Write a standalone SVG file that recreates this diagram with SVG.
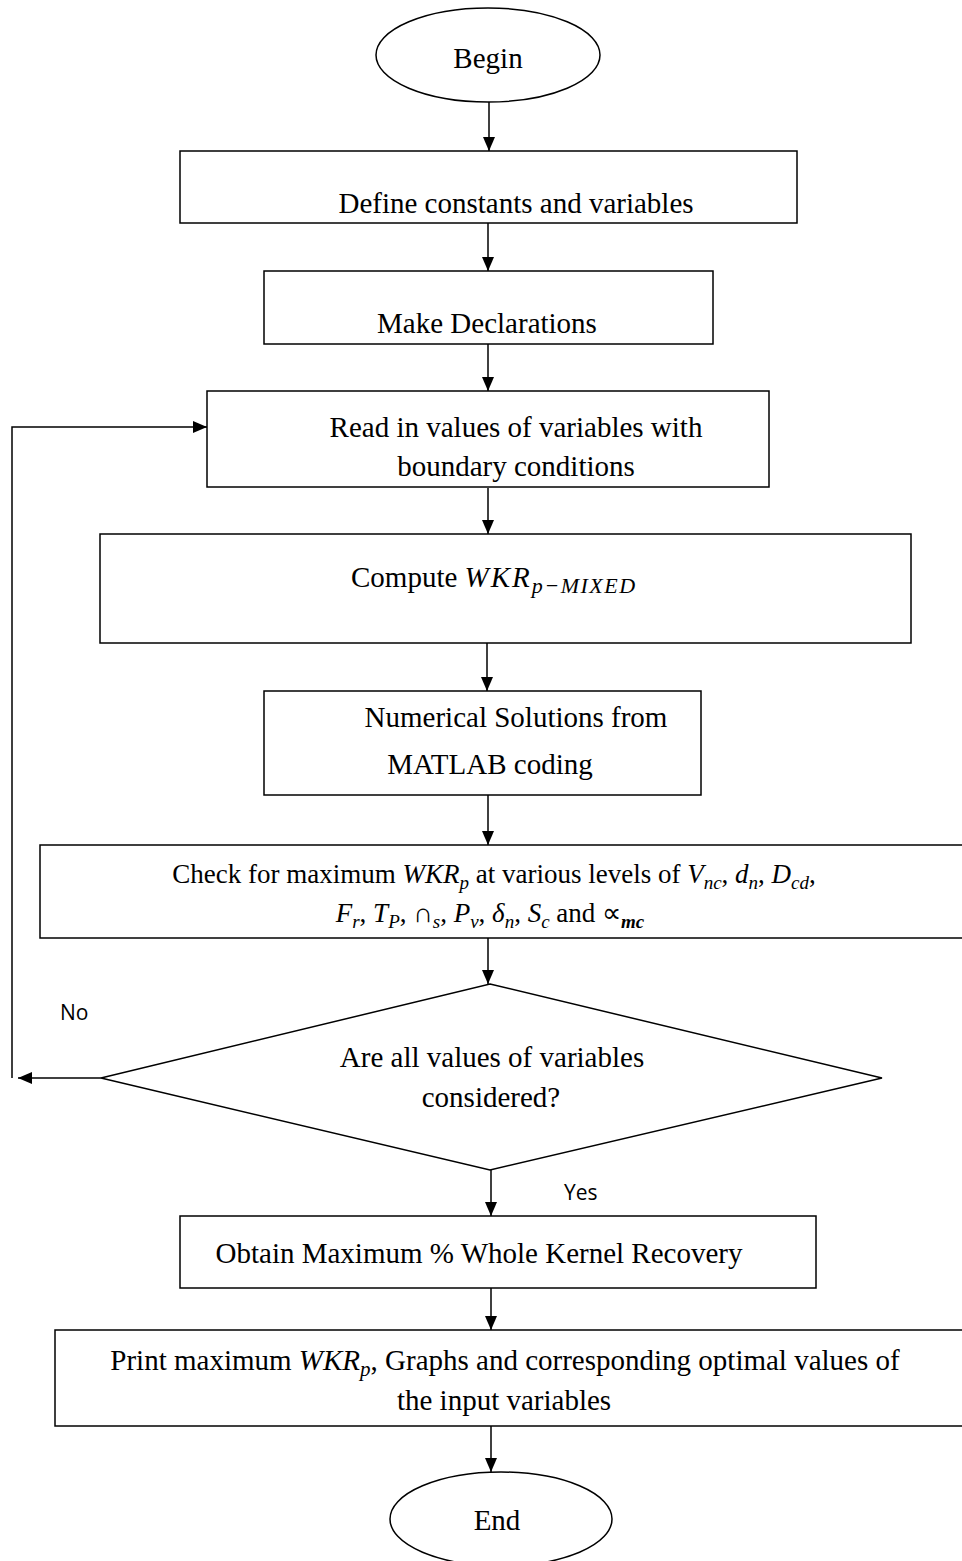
<svg xmlns="http://www.w3.org/2000/svg" width="962" height="1561" viewBox="0 0 962 1561">
<defs>
<marker id="ah" markerUnits="userSpaceOnUse" markerWidth="14" markerHeight="12" refX="14" refY="6" orient="auto">
<path d="M0,0 L14,6 L0,12 z" fill="#000"/>
</marker>
<clipPath id="clip3"><rect x="207" y="391" width="562" height="96"/></clipPath>
</defs>
<style>
.box{fill:#fff;stroke:#000;stroke-width:1.5}
.edge{fill:none;stroke:#000;stroke-width:1.5}
.t{font-family:"Liberation Serif","Times New Roman",serif;font-size:29px;fill:#000}
.s{font-family:"Liberation Serif","Times New Roman",serif;font-size:27px;fill:#000}
.m{font-style:italic}
.lbl{font-family:"Open Sans","Liberation Sans",sans-serif;font-size:21px;fill:#000}
</style>
<rect width="962" height="1561" fill="#fff"/>
<g id="connectors">
<line class="edge" x1="489" y1="102" x2="489" y2="151" marker-end="url(#ah)"/>
<line class="edge" x1="488" y1="223" x2="488" y2="271" marker-end="url(#ah)"/>
<line class="edge" x1="488" y1="344" x2="488" y2="391" marker-end="url(#ah)"/>
<line class="edge" x1="488" y1="488" x2="488" y2="534" marker-end="url(#ah)"/>
<line class="edge" x1="487" y1="643" x2="487" y2="691" marker-end="url(#ah)"/>
<line class="edge" x1="488" y1="795" x2="488" y2="845" marker-end="url(#ah)"/>
<line class="edge" x1="488" y1="938" x2="488" y2="984" marker-end="url(#ah)"/>
<line class="edge" x1="491" y1="1170" x2="491" y2="1216" marker-end="url(#ah)"/>
<line class="edge" x1="491" y1="1286" x2="491" y2="1330" marker-end="url(#ah)"/>
<line class="edge" x1="491" y1="1426" x2="491" y2="1472" marker-end="url(#ah)"/>
<line class="edge" x1="101" y1="1078" x2="18" y2="1078" marker-end="url(#ah)"/>
<polyline class="edge" points="12,1078 12,427 207,427" marker-end="url(#ah)"/>
</g>
<g id="begin">
<ellipse class="box" cx="488" cy="55" rx="112" ry="47"/>
<text class="t" x="488" y="68" text-anchor="middle">Begin</text>
</g>
<g id="define">
<rect class="box" x="180" y="151" width="617" height="72"/>
<text class="t" x="516" y="213" text-anchor="middle">Define constants and variables</text>
</g>
<g id="declare">
<rect class="box" x="264" y="271" width="449" height="73"/>
<text class="t" x="487" y="333" text-anchor="middle">Make Declarations</text>
</g>
<g id="read">
<rect class="box" x="207" y="391" width="562" height="96"/>
<text class="t" x="516" y="437" text-anchor="middle">Read in values of variables with</text>
<text class="t" x="516" y="476" text-anchor="middle" clip-path="url(#clip3)">boundary conditions</text>
</g>
<g id="compute">
<rect class="box" x="100" y="534" width="811" height="109"/>
<text class="t" x="351" y="587">Compute  <tspan class="m" letter-spacing="2">WKR</tspan><tspan class="m" font-size="22" letter-spacing="1.5" dy="6">p−MIXED</tspan></text>
</g>
<g id="numerical">
<rect class="box" x="264" y="691" width="437" height="104"/>
<text class="t" x="516" y="727" text-anchor="middle">Numerical Solutions from</text>
<text class="t" x="490" y="774" text-anchor="middle">MATLAB coding</text>
</g>
<g id="check">
<rect class="box" x="40" y="845" width="930" height="93"/>
<text class="s" x="494" y="883" text-anchor="middle">Check for maximum  <tspan class="m">WKR</tspan><tspan class="m" font-size="19" dy="6">p</tspan><tspan dy="-6"> at various levels of </tspan><tspan class="m">V</tspan><tspan class="m" font-size="19" dy="6">nc</tspan><tspan dy="-6">, </tspan><tspan class="m">d</tspan><tspan class="m" font-size="19" dy="6">n</tspan><tspan dy="-6">, </tspan><tspan class="m">D</tspan><tspan class="m" font-size="19" dy="6">cd</tspan><tspan dy="-6">,</tspan></text>
<text class="s" x="490" y="922" text-anchor="middle"><tspan class="m">F</tspan><tspan class="m" font-size="19" dy="6">r</tspan><tspan dy="-6">, </tspan><tspan class="m">T</tspan><tspan class="m" font-size="19" dy="6">P</tspan><tspan dy="-6">,  ∩</tspan><tspan class="m" font-size="19" dy="6">s</tspan><tspan dy="-6">, </tspan><tspan class="m">P</tspan><tspan class="m" font-size="19" dy="6">v</tspan><tspan dy="-6">, </tspan><tspan class="m">δ</tspan><tspan class="m" font-size="19" dy="6">n</tspan><tspan dy="-6">, </tspan><tspan class="m">S</tspan><tspan class="m" font-size="19" dy="6">c</tspan><tspan dy="-6">  and  ∝</tspan><tspan class="m" font-weight="bold" font-size="19" dy="6">mc</tspan></text>
</g>
<g id="decision">
<polygon class="box" points="490,984 882,1078 490,1170 101,1078"/>
<text class="t" x="492" y="1067" text-anchor="middle">Are all values of variables</text>
<text class="t" x="491" y="1107" text-anchor="middle">considered?</text>
</g>
<g id="labels">
<text class="lbl" x="60" y="1020">No</text>
<text class="lbl" x="564" y="1200">Yes</text>
</g>
<g id="obtain">
<rect class="box" x="180" y="1216" width="636" height="72"/>
<text class="t" x="479" y="1263" text-anchor="middle">Obtain Maximum % Whole Kernel Recovery</text>
</g>
<g id="print">
<rect class="box" x="55" y="1330" width="920" height="96"/>
<text class="t" x="505" y="1370" text-anchor="middle">Print maximum  <tspan class="m">WKR</tspan><tspan class="m" font-size="21" dy="6">p</tspan><tspan dy="-6">, Graphs and corresponding optimal values of</tspan></text>
<text class="t" x="504" y="1410" text-anchor="middle">the input variables</text>
</g>
<g id="end">
<ellipse class="box" cx="501" cy="1519" rx="111" ry="47"/>
<text class="t" x="497" y="1530" text-anchor="middle">End</text>
</g>
</svg>
